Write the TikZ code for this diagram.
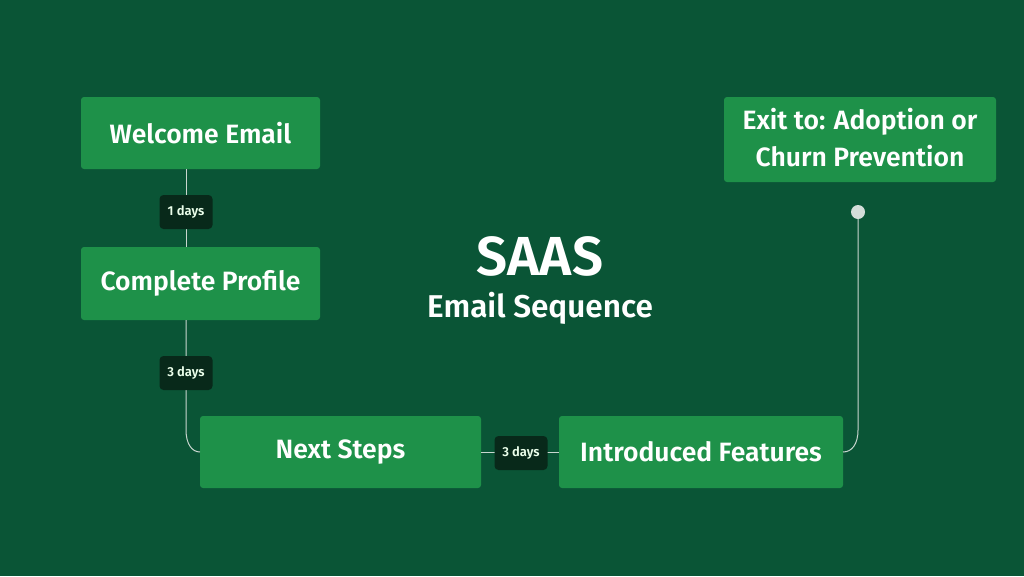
\documentclass[tikz,border=0pt]{standalone}
\usepackage{fontspec}
\setmainfont{Fira Sans}[BoldFont={Fira Sans SemiBold}]
\definecolor{bg}{HTML}{0A5536}
\definecolor{boxg}{HTML}{1E9149}
\definecolor{lab}{HTML}{08291A}
\definecolor{wire}{HTML}{C9D6CF}
\begin{document}
\begin{tikzpicture}[x=1pt,y=-1pt,
  stepbox/.style={fill=boxg,rounded corners=3pt,text=white,font=\fontsize{26.5}{30}\selectfont\bfseries,align=center,inner sep=0pt},
  tag/.style={fill=lab,rounded corners=4pt,text=white!92!green,font=\fontsize{13}{15}\selectfont\bfseries,minimum width=53pt,minimum height=34pt,inner sep=0pt},
  wireline/.style={draw=wire,line width=1pt}]
\fill[bg] (0,0) rectangle (1024,576);
\useasboundingbox (0,0) rectangle (1024,576);
\node[stepbox,minimum width=239pt,minimum height=72pt] (welcome) at (200.5,133) {Welcome Email};
\node[stepbox,minimum width=239pt,minimum height=73pt] (profile) at (200.5,283.5) {Complete Profile};
\node[stepbox,minimum width=281pt,minimum height=72pt] (next) at (340.5,452) {Next Steps};
\node[stepbox,minimum width=284pt,minimum height=72pt] (features) at (701,452) {Introduced Features};
\node[fill=boxg,rounded corners=3pt,minimum width=272pt,minimum height=85pt] (exit) at (860,139.5) {};
\node[text=white,font=\fontsize{26.5}{37}\selectfont\bfseries,align=center,inner sep=0pt] (exittext) at (860,137.5) {Exit to: Adoption or\\Churn Prevention};
\node[text=white,font=\fontsize{55}{60}\selectfont\bfseries] (title) at (540,256) {SAAS};
\node[text=white,font=\fontsize{31.5}{36}\selectfont\bfseries] (subtitle) at (540,308) {Email Sequence};
\coordinate (w1) at (186,169);
\coordinate (p1) at (186,247);
\coordinate (p2) at (186,320);
\coordinate (n1) at (200,452);
\coordinate (dotc) at (858,212);
\coordinate (f1) at (843,452);
\draw[wireline] (w1) -- (p1);
\draw[wireline] (p2) -- (186,430) .. controls (186,444) and (192,452) .. (n1);
\draw[wireline] (next.east) -- (features.west);
\draw[wireline] (dotc) -- (858,430) .. controls (858,444) and (852,452) .. (f1);
\node[tag] (t1) at (186,212) {1 days};
\node[tag] (t2) at (186,373) {3 days};
\node[tag] (t3) at (521,453) {3 days};
\node[circle,fill=wire!80!white,minimum size=14pt,inner sep=0pt] (dot) at (dotc) {};
\end{tikzpicture}
\end{document}
